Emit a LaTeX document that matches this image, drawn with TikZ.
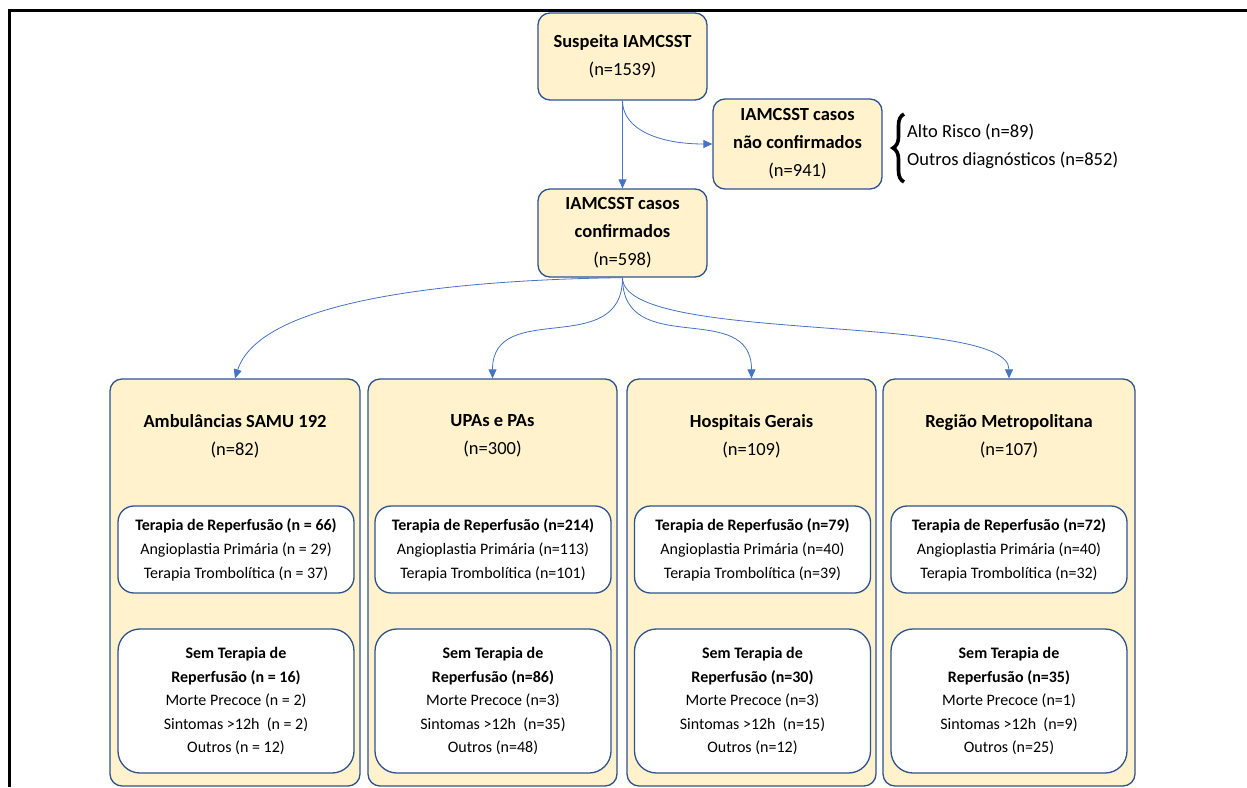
\documentclass[tikz,border=0pt]{standalone}
\usepackage{fontspec}
\setmainfont{Carlito}
\usetikzlibrary{arrows.meta,decorations.pathreplacing}
\definecolor{fillc}{HTML}{FFF2CC}
\definecolor{bordc}{HTML}{2F528F}
\definecolor{arrc}{HTML}{4472C4}
\newcommand\bigf{\fontsize{18.5}{28}\selectfont}
\newcommand\smf{\fontsize{16}{24}\selectfont}
\newcommand\smfb{\fontsize{16}{23.5}\selectfont}
\begin{document}
\begin{tikzpicture}[x=1pt,y=-1pt,
  topbox/.style={draw=bordc,fill=fillc,line width=1.3pt,rounded corners=12pt,
    minimum width=169pt,minimum height=87pt,inner sep=0pt,align=center,font=\bigf},
  bigbox/.style={draw=bordc,fill=fillc,line width=1.3pt,rounded corners=12pt,
    minimum width=250pt,minimum height=407pt,inner sep=0pt},
  titletext/.style={align=center,font=\bigf,inner sep=0pt},
  terbox/.style={draw=bordc,fill=white,line width=1.3pt,rounded corners=16pt,
    minimum width=236pt,minimum height=87pt,inner sep=0pt,align=center,font=\smf},
  sembox/.style={draw=bordc,fill=white,line width=1.3pt,rounded corners=22pt,
    minimum width=236pt,minimum height=144pt,inner sep=0pt,align=center,font=\smfb},
  conn/.style={draw=arrc,line width=0.8pt,-{Triangle[length=9pt,width=8pt]}}]
\useasboundingbox (0,0) rectangle (1247,787);
% frame
\draw[line width=3pt] (9.5,787) -- (9.5,10) -- (1247,10);

% top nodes
\node[topbox] (top) at (622.5,56.5) {\textbf{Suspeita IAMCSST}\\(n=1539)};
\node[topbox,minimum height=90pt] (nonconf) at (797.5,144) {\textbf{IAMCSST casos}\\\textbf{não confirmados}\\(n=941)};
\node[topbox,minimum height=88pt] (conf) at (622.5,233) {\textbf{IAMCSST casos}\\\textbf{confirmados}\\(n=598)};

% brace and text
\draw[line width=3.6pt,decorate,decoration={brace,amplitude=11pt}] (904,182) -- (904,114);
\node[anchor=west,align=left,font=\bigf,inner sep=0pt] (brtext) at (907,146) {Alto Risco (n=89)\\Outros diagnósticos (n=852)};

% big boxes
\node[bigbox] (b1) at (235,582.5) {};
\node[bigbox,minimum width=249pt] (b2) at (492.5,582.5) {};
\node[bigbox,minimum width=249pt] (b3) at (751.5,582.5) {};
\node[bigbox,minimum width=252pt] (b4) at (1009,582.5) {};

\node[titletext] (t1) at (235,436) {\textbf{Ambulâncias SAMU 192}\\(n=82)};
\node[titletext] (t2) at (492.5,436) {\textbf{UPAs e PAs}\\(n=300)};
\node[titletext] (t3) at (751.5,436) {\textbf{Hospitais Gerais}\\(n=109)};
\node[titletext] (t4) at (1009,436) {\textbf{Região Metropolitana}\\(n=107)};

% inner boxes
\node[terbox] (r1) at (236,549.5) {\textbf{Terapia de Reperfusão (n = 66)}\\Angioplastia Primária (n = 29)\\Terapia Trombolítica (n = 37)};
\node[terbox] (r2) at (493,549.5) {\textbf{Terapia de Reperfusão (n=214)}\\Angioplastia Primária (n=113)\\Terapia Trombolítica (n=101)};
\node[terbox] (r3) at (752.5,549.5) {\textbf{Terapia de Reperfusão (n=79)}\\Angioplastia Primária (n=40)\\Terapia Trombolítica (n=39)};
\node[terbox] (r4) at (1009,549.5) {\textbf{Terapia de Reperfusão (n=72)}\\Angioplastia Primária (n=40)\\Terapia Trombolítica (n=32)};

\node[sembox] (s1) at (236,701) {\textbf{Sem Terapia de}\\\textbf{Reperfusão (n = 16)}\\Morte Precoce (n = 2)\\Sintomas >12h\ \ (n = 2)\\Outros (n = 12)};
\node[sembox] (s2) at (493,701) {\textbf{Sem Terapia de}\\\textbf{Reperfusão (n=86)}\\Morte Precoce (n=3)\\Sintomas >12h\ \ (n=35)\\Outros (n=48)};
\node[sembox] (s3) at (752.5,701) {\textbf{Sem Terapia de}\\\textbf{Reperfusão (n=30)}\\Morte Precoce (n=3)\\Sintomas >12h\ \ (n=15)\\Outros (n=12)};
\node[sembox] (s4) at (1009,701) {\textbf{Sem Terapia de}\\\textbf{Reperfusão (n=35)}\\Morte Precoce (n=1)\\Sintomas >12h\ \ (n=9)\\Outros (n=25)};

% connectors
\draw[conn] (top.south) -- (conf.north);
\draw[conn] (top.south) .. controls (622.5,130) and (660,144) .. (nonconf.west);
\draw[conn] (conf.south) .. controls (450,280) and (260,300) .. (b1.north);
\draw[conn] (conf.south) .. controls (622.5,360) and (492.5,298) .. (b2.north);
\draw[conn] (conf.south) .. controls (622.5,360) and (751.5,298) .. (b3.north);
\draw[conn] (conf.south) .. controls (622.5,345) and (1009,312) .. (b4.north);
\end{tikzpicture}
\end{document}
